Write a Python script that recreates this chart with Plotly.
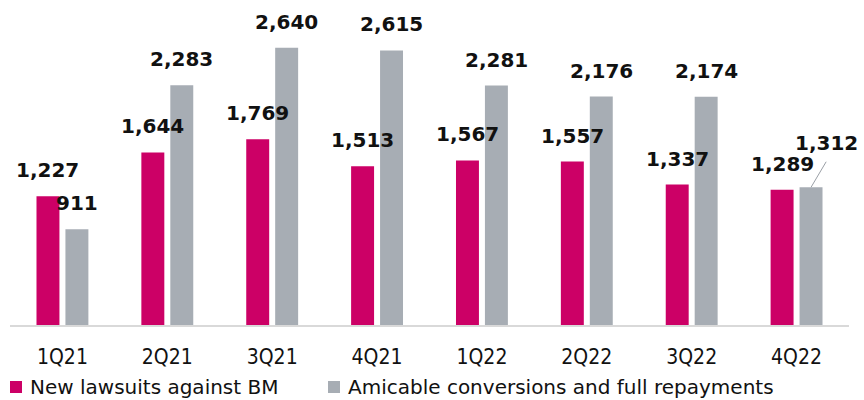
import plotly.graph_objects as go

quarters = ["1Q21", "2Q21", "3Q21", "4Q21", "1Q22", "2Q22", "3Q22", "4Q22"]
new_lawsuits = [1227, 1644, 1769, 1513, 1567, 1557, 1337, 1289]
amicable = [911, 2283, 2640, 2615, 2281, 2176, 2174, 1312]
series_names = ["New lawsuits against BM", "Amicable conversions and full repayments"]

MAGENTA = "#CC0066"
GREY = "#A7ADB4"
LABEL_FONT = dict(family="DejaVu Sans", size=20, color="#111111", weight="bold")
TEXT_FONT = "DejaVu Sans Condensed"

fig = go.Figure()
fig.add_trace(go.Bar(x=quarters, y=new_lawsuits, name=series_names[0],
                     marker=dict(color=MAGENTA, line_width=0)))
fig.add_trace(go.Bar(x=quarters, y=amicable, name=series_names[1],
                     marker=dict(color=GREY, line_width=0)))

# value labels above each bar (pixel offset to the bar's slot within the group)
BAR_OFFSET = 14.5
for i, q in enumerate(quarters):
    fig.add_annotation(x=q, y=new_lawsuits[i], text=f"{new_lawsuits[i]:,}",
                       showarrow=False, xshift=-BAR_OFFSET, yanchor="bottom",
                       yshift=12, font=LABEL_FONT)
    if i < len(quarters) - 1:
        fig.add_annotation(x=q, y=amicable[i], text=f"{amicable[i]:,}",
                           showarrow=False, xshift=BAR_OFFSET, yanchor="bottom",
                           yshift=12, font=LABEL_FONT)

# last grey bar: label moved up-right with a leader line
last = len(quarters) - 1
fig.add_annotation(x=quarters[last], y=amicable[last], text="",
                   showarrow=True, arrowhead=0, arrowwidth=1, arrowcolor="#9A9FA6",
                   ax=16, ay=-27, xshift=BAR_OFFSET, standoff=0)
fig.add_annotation(x=quarters[last], y=amicable[last], text=f"{amicable[last]:,}",
                   showarrow=False, xshift=BAR_OFFSET + 15.5, yshift=44,
                   font=LABEL_FONT)

# legend drawn as swatches + text below the axis
legend_items = [(series_names[0], MAGENTA, 10, 28), (series_names[1], GREY, 328, 346)]
PLOT_L, PLOT_W, PLOT_B, PLOT_H = 10, 839, 325, 315
for name, color, sx, tx in legend_items:
    fig.add_shape(type="rect", xref="paper", yref="paper",
                  x0=(sx - PLOT_L) / PLOT_W, x1=(sx + 12 - PLOT_L) / PLOT_W,
                  y0=(PLOT_B - 393) / PLOT_H, y1=(PLOT_B - 381) / PLOT_H,
                  fillcolor=color, line_width=0)
    fig.add_annotation(xref="paper", yref="paper",
                       x=(tx - PLOT_L) / PLOT_W, y=(PLOT_B - 387) / PLOT_H,
                       xanchor="left", yanchor="middle", showarrow=False,
                       text=name, font=dict(family="DejaVu Sans", size=20, color="#111111"))

fig.update_layout(
    width=864, height=400,
    margin=dict(l=10, r=15, t=10, b=75),
    paper_bgcolor="white", plot_bgcolor="white",
    barmode="group", bargap=0.448, bargroupgap=0.207,
    showlegend=False,
    xaxis=dict(type="category", range=[-0.5, 7.5], showline=True,
               linecolor="#D9D9D9", linewidth=2, ticks="", showgrid=False,
               ticklabelstandoff=12,
               tickfont=dict(family=TEXT_FONT, size=21, color="#111111")),
    yaxis=dict(range=[0, 3000], visible=False, showgrid=False, zeroline=False),
)

fig.write_html("out.html")
